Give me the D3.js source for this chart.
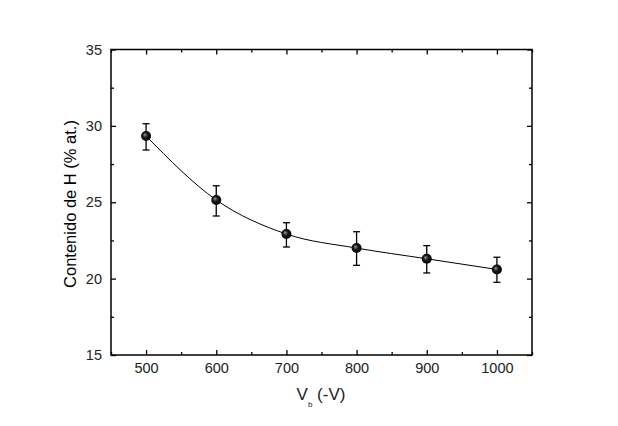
<!DOCTYPE html>
<html>
<head>
<meta charset="utf-8">
<script src="https://cdn.jsdelivr.net/npm/d3@7"></script>
<style>
  html, body { margin: 0; padding: 0; background: #fff; }
  svg { display: block; }
  text { font-family: "Liberation Sans", Arial, sans-serif; }
</style>
</head>
<body>
<svg id="chart" width="618" height="426"></svg>
<script>
// Data
const voltages = [500, 600, 700, 800, 900, 1000];
const hContent = [29.34, 25.15, 22.92, 22.0, 21.3, 20.6];
const errLow  = [28.42, 24.1, 22.07, 20.87, 20.37, 19.76];
const errHigh = [30.14, 26.08, 23.66, 23.07, 22.16, 21.4];
const xTicks = [500, 600, 700, 800, 900, 1000];
const xMinor = [450, 550, 650, 750, 850, 950, 1050];
const yTicks = [15, 20, 25, 30, 35];
const yMinor = [17.5, 22.5, 27.5, 32.5];

const svg = d3.select("#chart");
const m = { left: 111, right: 532, top: 49.5, bottom: 355 };

const x = d3.scaleLinear().domain([450, 1050]).range([m.left, m.right]);
const y = d3.scaleLinear().domain([15, 35]).range([m.bottom, m.top]);

// gradient for markers
const defs = svg.append("defs");
const grad = defs.append("radialGradient").attr("id", "ball")
  .attr("cx", "50%").attr("cy", "50%").attr("r", "55%")
  .attr("fx", "35%").attr("fy", "35%");
grad.append("stop").attr("offset", "0%").attr("stop-color", "#9a9a9a");
grad.append("stop").attr("offset", "45%").attr("stop-color", "#1a1a1a");
grad.append("stop").attr("offset", "100%").attr("stop-color", "#000");

function styleAxis(g) {
  g.select(".domain").remove();
  g.selectAll(".tick line").attr("stroke", "#000").attr("stroke-width", 1.3);
  g.selectAll(".tick text").attr("fill", "#222").style("font-size", "14.5px")
    .style("font-family", "'Liberation Sans', Arial, sans-serif");
}

// Bottom axis
svg.append("g").attr("transform", `translate(0,${m.bottom})`)
  .call(d3.axisBottom(x).tickValues(xTicks).tickSize(-5).tickPadding(8).tickFormat(d3.format("d")))
  .call(styleAxis);
svg.append("g").attr("transform", `translate(0,${m.bottom})`)
  .call(d3.axisBottom(x).tickValues(xMinor).tickSize(-3).tickFormat(""))
  .call(styleAxis);
// Top axis
svg.append("g").attr("transform", `translate(0,${m.top})`)
  .call(d3.axisTop(x).tickValues(xTicks).tickSize(-5).tickFormat(""))
  .call(styleAxis);
svg.append("g").attr("transform", `translate(0,${m.top})`)
  .call(d3.axisTop(x).tickValues(xMinor).tickSize(-3).tickFormat(""))
  .call(styleAxis);
// Left axis
svg.append("g").attr("transform", `translate(${m.left},0)`)
  .call(d3.axisLeft(y).tickValues(yTicks).tickSize(-5).tickPadding(9).tickFormat(d3.format("d")))
  .call(styleAxis);
svg.append("g").attr("transform", `translate(${m.left},0)`)
  .call(d3.axisLeft(y).tickValues(yMinor).tickSize(-3).tickFormat(""))
  .call(styleAxis);
// Right axis
svg.append("g").attr("transform", `translate(${m.right},0)`)
  .call(d3.axisRight(y).tickValues(yTicks).tickSize(-5).tickFormat(""))
  .call(styleAxis);
svg.append("g").attr("transform", `translate(${m.right},0)`)
  .call(d3.axisRight(y).tickValues(yMinor).tickSize(-3).tickFormat(""))
  .call(styleAxis);

// Frame
svg.append("rect")
  .attr("x", m.left).attr("y", m.top)
  .attr("width", m.right - m.left).attr("height", m.bottom - m.top)
  .attr("fill", "none").attr("stroke", "#000").attr("stroke-width", 1.5);

// Fit curve
const pts = voltages.map((v, i) => [v, hContent[i]]);
svg.append("path")
  .datum(pts)
  .attr("fill", "none").attr("stroke", "#000").attr("stroke-width", 1)
  .attr("d", d3.line().x(d => x(d[0])).y(d => y(d[1])).curve(d3.curveMonotoneX));

// Error bars
const eb = svg.append("g").attr("stroke", "#000").attr("stroke-width", 1.3);
voltages.forEach((v, i) => {
  const cx = x(v);
  eb.append("line").attr("x1", cx).attr("x2", cx).attr("y1", y(errLow[i])).attr("y2", y(errHigh[i]));
  eb.append("line").attr("x1", cx - 3.5).attr("x2", cx + 3.5).attr("y1", y(errLow[i])).attr("y2", y(errLow[i]));
  eb.append("line").attr("x1", cx - 3.5).attr("x2", cx + 3.5).attr("y1", y(errHigh[i])).attr("y2", y(errHigh[i]));
});

// Markers
svg.append("g").selectAll("circle")
  .data(pts).join("circle")
  .attr("cx", d => x(d[0])).attr("cy", d => y(d[1]))
  .attr("r", 5).attr("fill", "url(#ball)");

// Axis titles
const xt = svg.append("text")
  .attr("x", 321).attr("y", 400)
  .attr("text-anchor", "middle")
  .attr("fill", "#222")
  .style("font-size", "17px");
xt.append("tspan").text("V");
xt.append("tspan").attr("dy", 7).style("font-size", "8px").text("b");
xt.append("tspan").attr("dy", -7).text(" (-V)");

svg.append("text")
  .attr("transform", `translate(76,204) rotate(-90)`)
  .attr("text-anchor", "middle")
  .attr("fill", "#000")
  .style("font-size", "16.5px")
  .text("Contenido de H (% at.)");
</script>
</body>
</html>
